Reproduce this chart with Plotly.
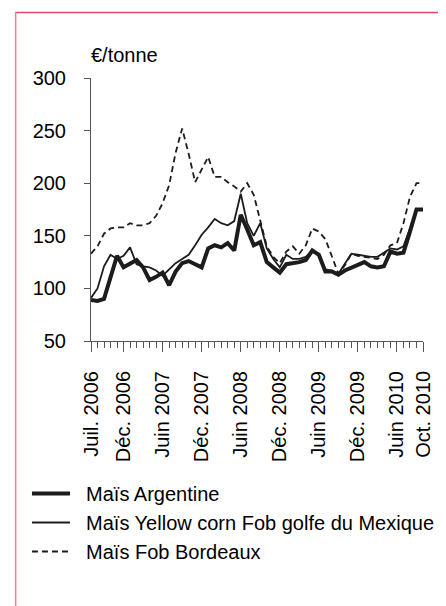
import plotly.graph_objects as go

# ---- data (monthly, Juil. 2006 -> Oct. 2010) ----
month_index = list(range(52))
tick_positions = [0, 5, 11, 17, 23, 29, 35, 41, 47, 51]
tick_labels = ["Juil. 2006", "Déc. 2006", "Juin 2007", "Déc. 2007", "Juin 2008",
               "Déc. 2008", "Juin 2009", "Déc. 2009", "Juin 2010", "Oct. 2010"]

mais_argentine = [89, 88, 90, 110, 131, 120, 124, 127, 120, 108, 111, 115, 103, 116, 124, 126,
                  123, 120, 138, 141, 139, 143, 136, 170, 156, 141, 144, 125, 120, 115, 123, 124,
                  125, 127, 136, 132, 116, 116, 113, 117, 120, 123, 125, 121, 120, 121, 135, 133,
                  134, 154, 175, 175]
mais_mexique = [91, 100, 121, 132, 128, 131, 139, 123, 121, 120, 117, 112, 118, 124, 128, 132,
                141, 151, 158, 166, 162, 160, 164, 190, 162, 150, 162, 138, 128, 120, 132, 128,
                128, 130, 136, 133, 118, 117, 114, 124, 133, 132, 131, 130, 130, 134, 138, 137,
                140, 157, 175, 175]
mais_bordeaux = [133, 140, 152, 157, 158, 158, 162, 160, 160, 162, 169, 181, 198, 229, 252, 228,
                 201, 213, 225, 206, 206, 201, 197, 192, 200, 189, 163, 140, 130, 124, 135, 140,
                 133, 141, 157, 154, 147, 130, 114, 122, 133, 131, 130, 129, 128, 132, 141, 143,
                 162, 187, 200, 200]

series_names = ["Maïs Argentine", "Maïs Yellow corn Fob golfe du Mexique", "Maïs Fob Bordeaux"]

# ---- layout geometry (page pixels; the page body adds an 8px offset) ----
OFF = 8
W, H = 446 - OFF, 606 - OFF
PLOT_L, PLOT_R, PLOT_T, PLOT_B = 91, 428, 78, 341  # page coordinates of the plot area
ML, MR = PLOT_L - OFF, W - (PLOT_R - OFF)
MT, MB = PLOT_T - OFF, H - (PLOT_B - OFF)
PW, PH = W - ML - MR, H - MT - MB


def px_x(px):
    return (px - OFF - ML) / PW


def px_y(py):
    return (H - MB - (py - OFF)) / PH


FONT = "Liberation Sans, Arial, sans-serif"
INK = "#1c1c1c"
FS = 20
PAD = "\u00a0\u00a0"  # small gap between legend sample and its label

fig = go.Figure()
fig.add_trace(go.Scatter(x=month_index, y=mais_argentine, mode="lines", name=PAD + series_names[0],
                         line=dict(color=INK, width=4)))
fig.add_trace(go.Scatter(x=month_index, y=mais_mexique, mode="lines", name=PAD + series_names[1],
                         line=dict(color=INK, width=1.8)))
fig.add_trace(go.Scatter(x=month_index, y=mais_bordeaux, mode="lines", name=PAD + series_names[2],
                         line=dict(color=INK, width=1.8, dash="6px,4px")))

fig.update_layout(
    width=W, height=H,
    margin=dict(l=ML, r=MR, t=MT, b=MB, pad=0),
    paper_bgcolor="white", plot_bgcolor="white",
    font=dict(family=FONT, size=FS, color="black"),
    showlegend=True,
    legend=dict(x=px_x(26), y=px_y(474), xanchor="left", yanchor="top",
                font=dict(family=FONT, size=FS, color="black"),
                itemwidth=38,
                bgcolor="rgba(0,0,0,0)", borderwidth=0, tracegroupgap=0),
    xaxis=dict(range=[0, 51], showgrid=False, zeroline=False,
               showline=True, linecolor="#555", linewidth=1,
               tickmode="array", tickvals=tick_positions, ticktext=tick_labels,
               ticks="outside", ticklen=10, tickcolor="#555", tickwidth=1,
               tickangle=-90, tickfont=dict(family=FONT, size=FS, color="black"),
               ticklabelstandoff=11,
               minor=dict(dtick=1, tick0=0, ticks="outside", ticklen=6,
                          tickcolor="#555", tickwidth=1, showgrid=False)),
    yaxis=dict(range=[50, 300], showgrid=False, zeroline=False,
               showline=True, linecolor="#555", linewidth=1,
               tickmode="linear", tick0=50, dtick=50,
               ticks="outside", ticklen=6, tickcolor="#555", tickwidth=1,
               tickfont=dict(family=FONT, size=FS, color="black"),
               ticklabelstandoff=14),
    annotations=[dict(text="€/tonne", xref="paper", yref="paper",
                      x=px_x(89), y=px_y(55), xanchor="left", yanchor="middle",
                      showarrow=False, font=dict(family=FONT, size=FS, color="black"))],
    shapes=[
        dict(type="line", xref="paper", yref="paper", x0=px_x(14), x1=px_x(460),
             y0=px_y(12.5), y1=px_y(12.5), line=dict(color="#EC4660", width=1.5)),
        dict(type="line", xref="paper", yref="paper", x0=px_x(14.5), x1=px_x(14.5),
             y0=px_y(12), y1=px_y(620), line=dict(color="#F27D92", width=1.5)),
    ],
)

fig.write_html("out.html")
